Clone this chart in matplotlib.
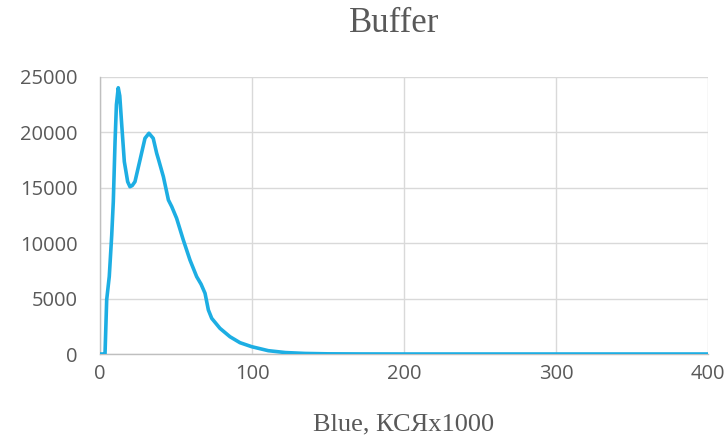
import matplotlib
matplotlib.use("Agg")
import matplotlib.pyplot as plt

# Data
blue_x = [0, 1.8, 3.3, 4.4, 6.1, 7.7, 8.75, 9.9, 10.8, 12.0, 13.0, 14.3, 16.0, 18.2, 19.7,
          21.2, 23.0, 26.3, 29.6, 32.2, 35.0, 37.3, 38.4, 41.7, 45.0, 47.2, 50.4, 54.8,
          59.2, 63.6, 66.5, 69.1, 71.3, 73.5, 78.9, 85.5, 92.1, 99.8, 110.7, 122, 135,
          150, 170, 200, 300, 400]
counts = [0, 0, 0, 4900, 7000, 10700, 13750, 19160, 22500, 24030, 23300, 20670, 17360,
          15550, 15100, 15200, 15550, 17500, 19470, 19920, 19470, 18110, 17600, 16000,
          13900, 13300, 12250, 10290, 8480, 6980, 6300, 5480, 3970, 3220, 2320, 1560,
          1020, 660, 300, 130, 50, 15, 5, 0, 0, 0]

x_ticks = [0, 100, 200, 300, 400]
y_ticks = [0, 5000, 10000, 15000, 20000, 25000]

title = "Buffer"
x_label = "Blue, КСЯx1000"

fig = plt.figure(figsize=(7.27, 4.37), dpi=100)
ax = fig.add_axes([100 / 727, 1 - 354 / 437, 608 / 727, 277 / 437])

ax.plot(blue_x, counts, color="#1DAEE3", linewidth=2.6, solid_joinstyle="round",
        solid_capstyle="round", zorder=3)

ax.set_xlim(0, 400)
ax.set_ylim(0, 25000)
ax.set_xticks(x_ticks)
ax.set_yticks(y_ticks)
ax.grid(True, color="#D9D9D9", linewidth=1.0)
ax.set_axisbelow(True)
for s in ["top", "right"]:
    ax.spines[s].set_visible(False)
for s in ["left", "bottom"]:
    ax.spines[s].set_color("#BFBFBF")
    ax.spines[s].set_linewidth(1.0)
ax.tick_params(length=0, labelsize=14.5, labelcolor="#595959")
ax.tick_params(axis="y", pad=16)
ax.tick_params(axis="x", pad=7)
for lab in ax.get_xticklabels() + ax.get_yticklabels():
    lab.set_fontfamily("Open Sans")

fig.text(394 / 727, 1 - 23 / 437, title, ha="center", va="center",
         fontsize=25, color="#595959", family="Liberation Serif")
fig.text(404 / 727, 1 - 424 / 437, x_label, ha="center", va="center",
         fontsize=19, color="#595959", family="Liberation Serif")

fig.savefig("out.png", dpi=100)
